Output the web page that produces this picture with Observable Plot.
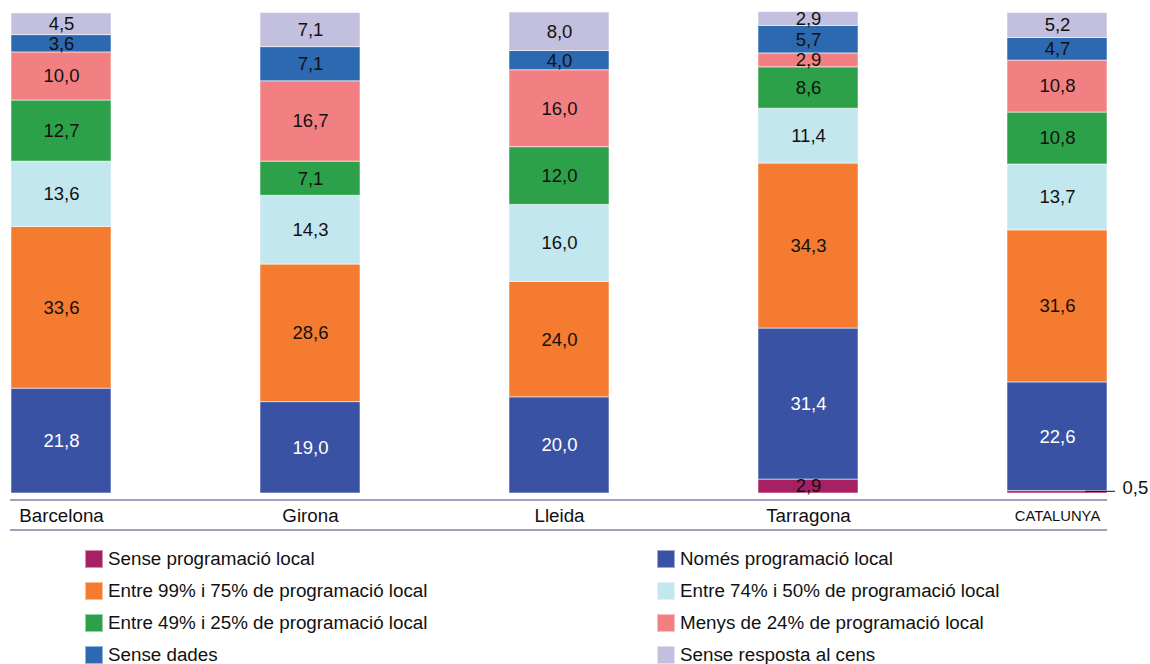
<!DOCTYPE html>
<html>
<head>
<meta charset="utf-8">
<script src="https://cdn.jsdelivr.net/npm/d3@7"></script>
<script src="https://cdn.jsdelivr.net/npm/@observablehq/plot@0.6"></script>
<style>
  html, body { margin: 0; padding: 0; background: #fff; }
  body { width: 1150px; height: 664px; overflow: hidden; font-family: "Liberation Sans", Arial, Helvetica, sans-serif; }
  #chart svg { display: block; }
  #legend { display: grid; grid-template-columns: 572px 420px; padding-left: 85px; margin-top: 8px; }
  .item { display: flex; align-items: center; height: 32px; font-size: 18.8px; color: #111; white-space: nowrap; }
  .sw { width: 18px; height: 18px; margin-right: 5px; box-sizing: border-box; border: 1px solid rgba(255,255,255,0.5); }
</style>
</head>
<body>
<div id="chart"></div>
<div id="legend"></div>
<script>
const categories = ["Barcelona", "Girona", "Lleida", "Tarragona", "CATALUNYA"];
const series = [
  "Sense programació local",
  "Només programació local",
  "Entre 99% i 75% de programació local",
  "Entre 74% i 50% de programació local",
  "Entre 49% i 25% de programació local",
  "Menys de 24% de programació local",
  "Sense dades",
  "Sense resposta al cens"
];
const colors = ["#a82064", "#3a52a4", "#f47b30", "#c3e7ef", "#2ca14a", "#f28083", "#2c69b1", "#c2c0de"];
// values per series, in category order
const senseProgramacio = [0, 0, 0, 2.9, 0.5];
const nomesLocal       = [21.8, 19.0, 20.0, 31.4, 22.6];
const entre99_75       = [33.6, 28.6, 24.0, 34.3, 31.6];
const entre74_50       = [13.6, 14.3, 16.0, 11.4, 13.7];
const entre49_25       = [12.7, 7.1, 12.0, 8.6, 10.8];
const menys24          = [10.0, 16.7, 16.0, 2.9, 10.8];
const senseDades       = [3.6, 7.1, 4.0, 5.7, 4.7];
const senseResposta    = [4.5, 7.1, 8.0, 2.9, 5.2];
const valuesBySeries = [senseProgramacio, nomesLocal, entre99_75, entre74_50, entre49_25, menys24, senseDades, senseResposta];

const data = [];
series.forEach((s, i) => categories.forEach((c, j) => {
  const v = valuesBySeries[i][j];
  if (v > 0) data.push({category: c, series: s, value: v});
}));

const fmt = d => d.toFixed(1).replace(".", ",");
const stackOpts = {x: "category", y: "value", z: "series", order: series};
const labelFont = 18.5;

const chart = Plot.plot({
  width: 1150,
  height: 535,
  marginTop: 12,
  marginBottom: 42,
  marginLeft: 9,
  marginRight: 41,
  style: {fontFamily: "Liberation Sans, Arial, Helvetica, sans-serif", background: "white"},
  x: {domain: categories, paddingInner: 0.6, paddingOuter: 0, axis: null},
  y: {domain: [0, 100], axis: null},
  color: {domain: series, range: colors},
  marks: [
    Plot.barY(data, Plot.stackY({...stackOpts, fill: "series", stroke: "white", strokeOpacity: 0.55, strokeWidth: 1})),
    Plot.text(data, Plot.stackY({...stackOpts,
      text: d => (d.value >= 1 && d.series !== series[1]) ? fmt(d.value) : null,
      fill: "#111", fontSize: labelFont})),
    Plot.text(data, Plot.stackY({...stackOpts,
      text: d => d.series === series[1] ? fmt(d.value) : null,
      fill: "white", fontSize: labelFont})),
    Plot.text(data.filter(d => d.value < 1),
      {x: "category", y: "value", text: d => fmt(d.value), textAnchor: "start", dx: 65, dy: -3, fill: "#111", fontSize: labelFont}),
    Plot.text(categories.slice(0, 4), {x: d => d, frameAnchor: "bottom", dy: 28, fontSize: 18.8, fill: "#111"}),
    Plot.text(categories.slice(4), {x: d => d, frameAnchor: "bottom", dy: 27, fontSize: 14.8, fill: "#111"})
  ]
});
document.getElementById("chart").appendChild(chart);

// decorative rules and leader line using the chart's scales
const sx = chart.scale("x"), sy = chart.scale("y");
const svg = d3.select(chart);
const x0 = sx.range[0] + 1, x1 = sx.range[1] - 2;
[500, 530].forEach(yy => {
  svg.append("line").attr("x1", x0).attr("x2", x1).attr("y1", yy).attr("y2", yy)
    .attr("stroke", "#7d80ad").attr("stroke-width", 1.5);
});
data.filter(d => d.value < 1).forEach(d => {
  const bx = sx.apply(d.category) + sx.bandwidth;
  const by = sy.apply(d.value / 2) - 0.5;
  svg.append("line").attr("x1", bx - 22).attr("x2", bx + 8).attr("y1", by).attr("y2", by)
    .attr("stroke", "#111").attr("stroke-width", 1);
});

// legend
const legend = document.getElementById("legend");
series.forEach((s, i) => {
  const item = document.createElement("div");
  item.className = "item";
  const sw = document.createElement("span");
  sw.className = "sw";
  sw.style.background = colors[i];
  const t = document.createElement("span");
  t.textContent = s;
  item.appendChild(sw);
  item.appendChild(t);
  legend.appendChild(item);
});
</script>
</body>
</html>
